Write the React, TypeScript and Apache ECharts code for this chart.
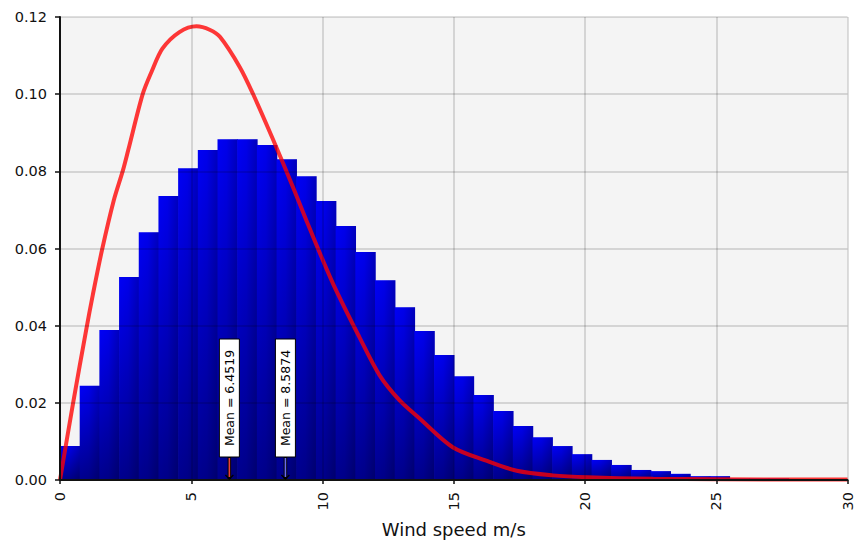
import React, { useEffect, useRef } from "react";
import * as echarts from "echarts";

// Histogram: bin width (m/s) and relative frequency per bin, starting at 0 m/s
const binWidth = 0.75;
const binValues = [
  0.0088, 0.0244, 0.0389, 0.0526, 0.0642, 0.0736, 0.0808, 0.0855, 0.0883, 0.0883,
  0.0868, 0.0831, 0.0787, 0.0723, 0.0658, 0.0591, 0.0518, 0.0448, 0.0386, 0.0324,
  0.0269, 0.0220, 0.0179, 0.0140, 0.0111, 0.0088, 0.0067, 0.0052, 0.0039, 0.0026,
  0.0023, 0.0016, 0.0010, 0.0010, 0.0004, 0.0004, 0.0004, 0, 0, 0,
];

// Fitted distribution curve (wind speed, density)
const curveX = [
  0, 0.5, 1.0, 1.25, 1.6, 2.05, 2.4, 2.6, 3.15, 3.5, 3.9, 4.55, 5.2,
  5.7, 6.1, 6.85, 7.35, 8.1, 8.9, 9.45, 10.4, 11.4, 12.17,
  12.93, 13.69, 14.96, 16.24, 17.4, 18.77, 20.1, 22.6, 25, 30,
];
const curveY = [
  0, 0.020, 0.039, 0.048, 0.0596, 0.0725, 0.0803, 0.0855, 0.1, 0.106,
  0.1118, 0.1161, 0.1176, 0.1167, 0.1148, 0.107, 0.1001, 0.0885,
  0.0755, 0.0662, 0.0509, 0.0371, 0.0272, 0.0207, 0.016,
  0.0085, 0.005, 0.0024, 0.0012, 0.0007, 0.0003, 0.0002, 0.0001,
];

// Mean markers
const meanValues = [6.4519, 8.5874];
const meanLabels = ["Mean = 6.4519", "Mean = 8.5874"];
const meanColors = ["#e8413c", "#6a6af0"];

// Axis ticks
const xTicks = { min: 0, max: 30, interval: 5 };
const yTicks = { min: 0, max: 0.12, interval: 0.02 };

const FONT = "DejaVu Sans";

export default function App() {
  const ref = useRef<HTMLDivElement>(null);

  useEffect(() => {
    if (!ref.current) return;
    const chart = echarts.init(ref.current, null, { renderer: "svg" });

    const barData = binValues.map((v, i) => [i * binWidth, (i + 1) * binWidth, v]);
    const lineData = curveX.map((x, i) => [x, curveY[i]]);
    const meanData = meanValues.map((m, i) => [m, 0, i]);

    const option: any = {
      animation: false,
      backgroundColor: "#ffffff",
      textStyle: { fontFamily: FONT },
      grid: {
        left: 60,
        right: 7,
        top: 17,
        bottom: 63,
        show: true,
        backgroundColor: "#f4f4f4",
        borderWidth: 0,
      },
      xAxis: {
        type: "value",
        min: xTicks.min,
        max: xTicks.max,
        interval: xTicks.interval,
        z: 4,
        name: "Wind speed m/s",
        nameLocation: "middle",
        nameGap: 40,
        nameTextStyle: { fontFamily: FONT, fontSize: 18, color: "#111" },
        axisLine: { show: true, onZero: false, lineStyle: { color: "#111", width: 2 } },
        axisTick: { show: true, length: 4, lineStyle: { color: "#111", width: 1.5 } },
        axisLabel: {
          rotate: 90,
          margin: 12,
          fontFamily: FONT,
          fontSize: 14.5,
          color: "#111",
        },
        splitLine: { show: true, lineStyle: { color: "rgba(0,0,0,0.13)", width: 2 } },
      },
      yAxis: {
        type: "value",
        min: yTicks.min,
        max: yTicks.max,
        interval: yTicks.interval,
        z: 4,
        axisLine: { show: true, onZero: false, lineStyle: { color: "#111", width: 2 } },
        axisTick: { show: true, length: 5, lineStyle: { color: "#111", width: 1.5 } },
        axisLabel: {
          margin: 13,
          fontFamily: FONT,
          fontSize: 14.5,
          color: "#111",
          formatter: (v: number) => v.toFixed(2),
        },
        splitLine: { show: true, lineStyle: { color: "rgba(0,0,0,0.13)", width: 2 } },
      },
      series: [
        {
          type: "custom",
          name: "histogram",
          z: 2,
          silent: true,
          data: barData,
          encode: { x: [0, 1], y: 2 },
          renderItem: (params: any, api: any) => {
            const x0 = api.value(0);
            const x1 = api.value(1);
            const v = api.value(2);
            const p0 = api.coord([x0, v]);
            const p1 = api.coord([x1, 0]);
            const w = p1[0] - p0[0];
            const h = p1[1] - p0[1];
            if (h <= 0) return null;
            return {
              type: "group",
              children: [
                {
                  type: "rect",
                  shape: { x: p0[0], y: p0[1], width: w + 0.7, height: h },
                  style: {
                    fill: new echarts.graphic.LinearGradient(0, 0, 0, 1, [
                      { offset: 0, color: "#0000f6" },
                      { offset: 1, color: "#00008e" },
                    ]),
                  },
                },
                {
                  type: "rect",
                  shape: { x: p0[0], y: p0[1], width: w + 0.7, height: h },
                  style: {
                    fill: new echarts.graphic.LinearGradient(0, 0, 1, 0, [
                      { offset: 0, color: "rgba(0,0,0,0)" },
                      { offset: 0.45, color: "rgba(0,0,0,0.05)" },
                      { offset: 1, color: "rgba(0,0,0,0.24)" },
                    ]),
                  },
                },
              ],
            };
          },
        },
        {
          type: "line",
          name: "fit",
          z: 3,
          data: lineData,
          smooth: 0.3,
          showSymbol: false,
          symbol: "none",
          lineStyle: { color: "rgba(255,0,0,0.78)", width: 4 },
        },
        {
          type: "custom",
          name: "means",
          z: 6,
          silent: true,
          data: meanData,
          encode: { x: 0, y: 1 },
          renderItem: (params: any, api: any) => {
            const idx = api.value(2);
            const p = api.coord([api.value(0), 0]);
            const cx = p[0];
            const base = p[1];
            const boxBottom = base - 23;
            const boxH = 118;
            const boxW = 20;
            const color = meanColors[idx];
            return {
              type: "group",
              children: [
                {
                  type: "rect",
                  shape: { x: cx - boxW / 2, y: boxBottom - boxH, width: boxW, height: boxH },
                  style: { fill: "#ffffff", stroke: "#000000", lineWidth: 1 },
                },
                {
                  type: "text",
                  x: cx,
                  y: boxBottom - boxH / 2,
                  rotation: Math.PI / 2,
                  style: {
                    text: meanLabels[idx],
                    fontFamily: FONT,
                    fontSize: 12.5,
                    fill: "#000",
                    align: "center",
                    verticalAlign: "middle",
                  },
                },
                {
                  type: "line",
                  shape: { x1: cx, y1: boxBottom, x2: cx, y2: base - 1 },
                  style: { stroke: "#000", lineWidth: 3.5 },
                },
                {
                  type: "line",
                  shape: { x1: cx, y1: boxBottom + 1, x2: cx, y2: base - 3 },
                  style: { stroke: color, lineWidth: 1.6 },
                },
                {
                  type: "polyline",
                  shape: { points: [[cx - 4, base - 5], [cx, base - 1], [cx + 4, base - 5]] },
                  style: { stroke: "#000", lineWidth: 1.3, fill: "none" },
                },
              ],
            };
          },
        },
      ],
    };

    chart.setOption(option);
    return () => chart.dispose();
  }, []);

  return (
    <div
      ref={ref}
      style={{ position: "fixed", left: 0, top: 0, width: 855, height: 543 }}
    />
  );
}
